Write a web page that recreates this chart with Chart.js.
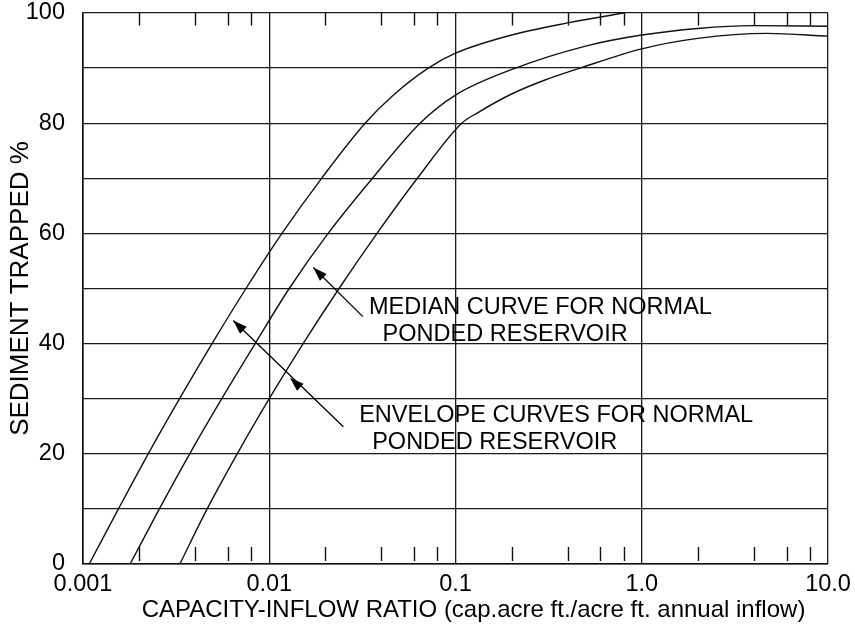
<!DOCTYPE html>
<html>
<head>
<meta charset="utf-8">
<script src="https://cdn.jsdelivr.net/npm/chart.js@4.4.1/dist/chart.umd.min.js"></script>
<style>
  html, body { margin: 0; padding: 0; background: #ffffff; }
  #wrap { width: 855px; height: 631px; }
  canvas { display: block; }
</style>
</head>
<body>
<div id="wrap"><canvas id="c" width="855" height="631"></canvas></div>
<script>
// ---------- data ----------
const xTickValues = [0.001, 0.01, 0.1, 1, 10];
const xTickLabels = ['0.001', '0.01', '0.1', '1.0', '10.0'];
const yTickValues = [0, 20, 40, 60, 80, 100];
const minorTickFactors = [2, 4, 6, 8];

// upper envelope curve
const upperX = [0.00108, 0.00155, 0.00224, 0.0033, 0.00493, 0.0075, 0.0117, 0.0191, 0.0327, 0.046, 0.0714, 0.1, 0.2, 0.4, 0.8];
const upperY = [0, 10, 20, 30, 40, 50, 60, 70, 80, 85, 90, 92.7, 96, 98.2, 100];

// median curve
const medianX = [0.00179, 0.00257, 0.00374, 0.00556, 0.0084, 0.0128, 0.0207, 0.0358, 0.0645, 0.1, 0.21, 0.5, 1.0, 2.0, 4.0, 10];
const medianY = [0, 10, 20, 30, 40, 50, 60, 70, 80, 85.1, 90, 94, 96, 97.2, 97.7, 97.6];

// lower envelope curve
const lowerX = [0.00331, 0.00464, 0.00673, 0.0100, 0.0152, 0.0237, 0.0379, 0.0624, 0.108, 0.13, 0.2, 0.3, 0.466, 1.0, 2.0, 4.7, 10];
const lowerY = [0, 10, 20, 30, 40, 50, 60, 70, 80, 81.8, 85.3, 87.8, 90, 93.5, 95.4, 96.3, 95.8];

const xTitle = 'CAPACITY-INFLOW RATIO (cap.acre ft./acre ft. annual inflow)';
const yTitle = 'SEDIMENT TRAPPED %';

// annotation texts (anchored in data space: left edge, vertical middle)
const noteTexts = ['MEDIAN CURVE FOR NORMAL', 'PONDED RESERVOIR', 'ENVELOPE CURVES FOR NORMAL', 'PONDED RESERVOIR'];
const noteX = [0.0343, 0.0406, 0.0304, 0.0357];
const noteY = [46.6, 41.6, 27.0, 22.0];

// arrows: tail -> tip (data space), optional mid arrowhead
const medianArrow = { from: [0.0318, 44.9], to: [0.01724, 53.8], mids: [] };
const envelopeArrow = { from: [0.0250, 24.9], to: [0.00641, 44.2], mids: [[0.01292, 33.8]] };

// ---------- chart ----------
const FONT = '"Liberation Sans", Arial, Helvetica, sans-serif';
const zip = (xs, ys) => xs.map((x, i) => ({ x: x, y: ys[i] }));

function lineSet(label, xs, ys) {
  return {
    label: label,
    data: zip(xs, ys),
    borderColor: '#111111',
    borderWidth: 1.4,
    pointRadius: 0,
    fill: false,
    cubicInterpolationMode: 'monotone',
    clip: 2
  };
}

function drawHead(ctx, tx, ty, fx, fy, len, half) {
  const ang = Math.atan2(ty - fy, tx - fx);
  ctx.save();
  ctx.translate(tx, ty);
  ctx.rotate(ang);
  ctx.beginPath();
  ctx.moveTo(0, 0);
  ctx.lineTo(-len, -half);
  ctx.lineTo(-len, half);
  ctx.closePath();
  ctx.fill();
  ctx.restore();
}

const overlay = {
  id: 'overlay',
  afterDraw(chart) {
    const ctx = chart.ctx;
    const xs = chart.scales.x, ys = chart.scales.y;
    const area = chart.chartArea;
    ctx.save();
    // minor inner ticks top & bottom
    ctx.strokeStyle = '#111';
    ctx.lineWidth = 1.4;
    for (let d = 0; d < xTickValues.length - 1; d++) {
      minorTickFactors.forEach(f => {
        const px = Math.round(xs.getPixelForValue(xTickValues[d] * f)) + 0.5;
        ctx.beginPath();
        ctx.moveTo(px, area.top);
        ctx.lineTo(px, area.top + 12.5);
        ctx.moveTo(px, area.bottom - 3);
        ctx.lineTo(px, area.bottom - 17);
        ctx.stroke();
      });
    }
    // arrows
    ctx.fillStyle = '#000';
    ctx.strokeStyle = '#000';
    ctx.lineWidth = 1.3;
    [medianArrow, envelopeArrow].forEach(a => {
      const fx = xs.getPixelForValue(a.from[0]), fy = ys.getPixelForValue(a.from[1]);
      const tx = xs.getPixelForValue(a.to[0]), ty = ys.getPixelForValue(a.to[1]);
      ctx.beginPath();
      ctx.moveTo(fx, fy);
      ctx.lineTo(tx, ty);
      ctx.stroke();
      drawHead(ctx, tx, ty, fx, fy, 14, 4.8);
      a.mids.forEach(m => {
        const mx = xs.getPixelForValue(m[0]), my = ys.getPixelForValue(m[1]);
        drawHead(ctx, mx, my, fx, fy, 14, 4.8);
      });
    });
    // annotation texts
    ctx.font = '23.5px ' + FONT;
    ctx.textAlign = 'left';
    ctx.textBaseline = 'middle';
    ctx.fillStyle = '#000';
    noteTexts.forEach((t, i) => {
      ctx.fillText(t, xs.getPixelForValue(noteX[i]), ys.getPixelForValue(noteY[i]));
    });
    // x-axis title
    ctx.font = '24px ' + FONT;
    ctx.textAlign = 'center';
    ctx.textBaseline = 'middle';
    ctx.fillText(xTitle, (area.left + area.right) / 2 + 18, xs.bottom - 21);
    ctx.restore();
  }
};

new Chart(document.getElementById('c'), {
  type: 'line',
  data: {
    datasets: [
      lineSet('Upper envelope', upperX, upperY),
      lineSet('Median', medianX, medianY),
      lineSet('Lower envelope', lowerX, lowerY)
    ]
  },
  options: {
    responsive: false,
    animation: false,
    devicePixelRatio: 1,
    parsing: false,
    layout: { padding: { top: 13, right: 27, left: 0, bottom: 0 } },
    plugins: { legend: { display: false }, tooltip: { enabled: false } },
    scales: {
      x: {
        type: 'logarithmic',
        min: 0.001,
        max: 10,
        afterBuildTicks: s => { s.ticks = xTickValues.map(v => ({ value: v, major: true })); },
        afterFit: s => { s.height = 67; s.paddingLeft = 0; s.paddingRight = 0; },
        ticks: {
          autoSkip: false,
          maxRotation: 0,
          minRotation: 0,
          padding: 6,
          color: '#000',
          font: { family: FONT, size: 23.5 },
          callback: function (v) {
            const i = xTickValues.findIndex(t => Math.abs(t - v) / t < 1e-6);
            return i >= 0 ? xTickLabels[i] : '';
          }
        },
        grid: { color: '#1a1a1a', lineWidth: 1.3, drawTicks: false },
        border: { color: '#111', width: 1.6 },
        title: { display: false }
      },
      y: {
        min: 0,
        max: 100,
        afterFit: s => { s.width = 83; s.paddingTop = 0; s.paddingBottom = 0; },
        ticks: {
          stepSize: 10,
          padding: 18,
          color: '#000',
          font: { family: FONT, size: 23.5 },
          callback: v => (yTickValues.indexOf(v) >= 0 ? String(v) : '')
        },
        grid: { color: '#1a1a1a', lineWidth: 1.3, drawTicks: false },
        border: { color: '#111', width: 1.6 },
        title: {
          display: true,
          text: yTitle,
          color: '#000',
          font: { family: FONT, size: 26 },
          padding: { top: 5, bottom: 0 }
        }
      }
    }
  },
  plugins: [overlay]
});
</script>
</body>
</html>
